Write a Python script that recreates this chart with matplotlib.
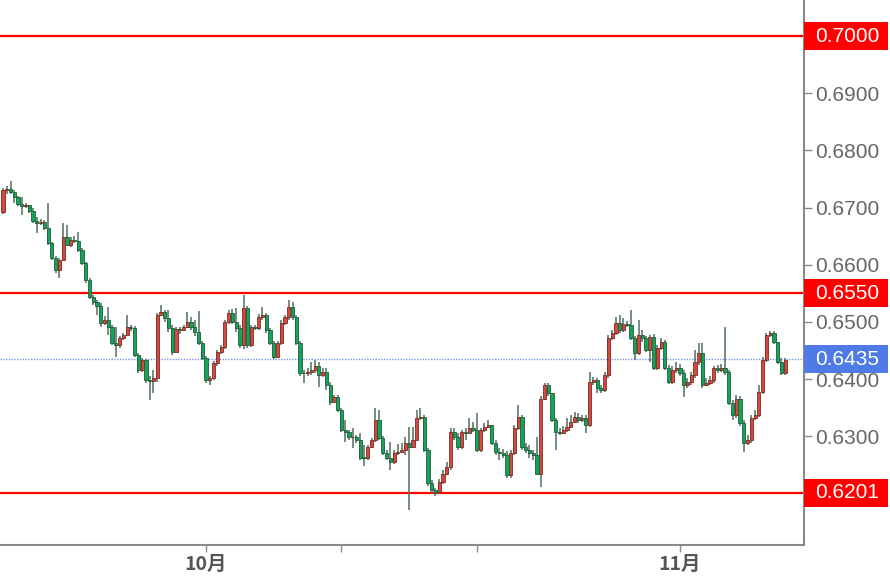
import numpy as np
import matplotlib
matplotlib.use("Agg")
import matplotlib.pyplot as plt
from matplotlib.patches import Rectangle
from matplotlib.transforms import blended_transform_factory

# 4h candles (open of each bar = previous close)
first_open = 0.6692
closes = [0.6731, 0.6732, 0.6727, 0.6718, 0.6706, 0.6703, 0.6704, 0.6694, 0.6676, 0.6673,
          0.6675, 0.6664, 0.6638, 0.6612, 0.6591, 0.6608, 0.6648, 0.6634, 0.6643, 0.6642,
          0.6626, 0.6603, 0.6573, 0.6543, 0.6535, 0.6528, 0.6498, 0.6503, 0.6491, 0.6463,
          0.6459, 0.6472, 0.6477, 0.6491, 0.6489, 0.6442, 0.6416, 0.6433, 0.6398, 0.6396,
          0.6402, 0.6512, 0.6517, 0.6507, 0.6489, 0.6447, 0.6487, 0.6486, 0.6491, 0.6500,
          0.6491, 0.6482, 0.6463, 0.6437, 0.6398, 0.6402, 0.6428, 0.6447, 0.6456, 0.6500,
          0.6515, 0.6500, 0.6489, 0.6459, 0.6524, 0.6459, 0.6491, 0.6489, 0.6508, 0.6512,
          0.6486, 0.6463, 0.6438, 0.6463, 0.6498, 0.6508, 0.6526, 0.6508, 0.6463, 0.6410,
          0.6411, 0.6412, 0.6416, 0.6423, 0.6407, 0.6412, 0.6389, 0.6360, 0.6368, 0.6346,
          0.6311, 0.6307, 0.6298, 0.6299, 0.6293, 0.6263, 0.6262, 0.6281, 0.6293, 0.6328,
          0.6297, 0.6270, 0.6263, 0.6255, 0.6270, 0.6272, 0.6276, 0.6288, 0.6281, 0.6293,
          0.6332, 0.6333, 0.6276, 0.6218, 0.6206, 0.6202, 0.6220, 0.6235, 0.6246, 0.6307,
          0.6298, 0.6281, 0.6307, 0.6305, 0.6314, 0.6311, 0.6276, 0.6311, 0.6316, 0.6319,
          0.6288, 0.6272, 0.6270, 0.6267, 0.6232, 0.6270, 0.6314, 0.6333, 0.6281, 0.6276,
          0.6270, 0.6268, 0.6235, 0.6366, 0.6389, 0.6375, 0.6328, 0.6307, 0.6306, 0.6311,
          0.6316, 0.6325, 0.6333, 0.6328, 0.6332, 0.6319, 0.6395, 0.6398, 0.6384, 0.6381,
          0.6407, 0.6472, 0.6480, 0.6498, 0.6486, 0.6496, 0.6495, 0.6472, 0.6445, 0.6477,
          0.6472, 0.6451, 0.6473, 0.6419, 0.6454, 0.6465, 0.6419, 0.6395, 0.6416, 0.6419,
          0.6410, 0.6389, 0.6395, 0.6407, 0.6430, 0.6445, 0.6389, 0.6393, 0.6398, 0.6419,
          0.6416, 0.6419, 0.6412, 0.6358, 0.6337, 0.6366, 0.6323, 0.6288, 0.6293, 0.6332,
          0.6337, 0.6377, 0.6433, 0.6477, 0.6480, 0.6465, 0.6430, 0.6410, 0.6433]
highs = [0.6734, 0.6738, 0.6746, 0.6731, 0.6720, 0.6718, 0.6708, 0.6704, 0.6699, 0.6683,
         0.6680, 0.6678, 0.6708, 0.6640, 0.6615, 0.6612, 0.6673, 0.6669, 0.6648, 0.6650,
         0.6657, 0.6629, 0.6605, 0.6577, 0.6547, 0.6538, 0.6533, 0.6510, 0.6526, 0.6494,
         0.6491, 0.6475, 0.6480, 0.6512, 0.6494, 0.6493, 0.6445, 0.6437, 0.6435, 0.6405,
         0.6416, 0.6515, 0.6529, 0.6521, 0.6521, 0.6494, 0.6491, 0.6491, 0.6494, 0.6517,
         0.6508, 0.6503, 0.6519, 0.6466, 0.6440, 0.6405, 0.6431, 0.6451, 0.6459, 0.6503,
         0.6521, 0.6522, 0.6524, 0.6494, 0.6547, 0.6528, 0.6494, 0.6494, 0.6514, 0.6526,
         0.6515, 0.6489, 0.6466, 0.6466, 0.6503, 0.6512, 0.6538, 0.6535, 0.6512, 0.6466,
         0.6416, 0.6419, 0.6430, 0.6433, 0.6430, 0.6419, 0.6419, 0.6395, 0.6372, 0.6372,
         0.6349, 0.6328, 0.6311, 0.6314, 0.6302, 0.6305, 0.6284, 0.6284, 0.6297, 0.6349,
         0.6346, 0.6300, 0.6276, 0.6290, 0.6276, 0.6286, 0.6288, 0.6298, 0.6316, 0.6316,
         0.6346, 0.6349, 0.6337, 0.6279, 0.6223, 0.6209, 0.6225, 0.6241, 0.6255, 0.6314,
         0.6314, 0.6305, 0.6311, 0.6314, 0.6332, 0.6325, 0.6340, 0.6314, 0.6323, 0.6328,
         0.6319, 0.6293, 0.6279, 0.6277, 0.6274, 0.6276, 0.6319, 0.6354, 0.6337, 0.6288,
         0.6284, 0.6276, 0.6298, 0.6370, 0.6393, 0.6393, 0.6375, 0.6332, 0.6314, 0.6318,
         0.6332, 0.6337, 0.6342, 0.6340, 0.6337, 0.6337, 0.6412, 0.6403, 0.6402, 0.6389,
         0.6412, 0.6477, 0.6486, 0.6508, 0.6512, 0.6507, 0.6501, 0.6521, 0.6475, 0.6503,
         0.6486, 0.6475, 0.6477, 0.6479, 0.6459, 0.6472, 0.6468, 0.6424, 0.6423, 0.6430,
         0.6426, 0.6416, 0.6402, 0.6412, 0.6451, 0.6463, 0.6463, 0.6402, 0.6405, 0.6423,
         0.6424, 0.6426, 0.6491, 0.6416, 0.6363, 0.6372, 0.6370, 0.6328, 0.6302, 0.6337,
         0.6346, 0.6389, 0.6438, 0.6480, 0.6484, 0.6484, 0.6447, 0.6437, 0.6437]
lows = [0.6689, 0.6724, 0.6724, 0.6708, 0.6703, 0.6687, 0.6699, 0.6690, 0.6673, 0.6655,
        0.6669, 0.6661, 0.6634, 0.6608, 0.6585, 0.6577, 0.6606, 0.6633, 0.6631, 0.6638,
        0.6622, 0.6599, 0.6568, 0.6540, 0.6529, 0.6512, 0.6491, 0.6494, 0.6477, 0.6459,
        0.6438, 0.6454, 0.6468, 0.6475, 0.6484, 0.6438, 0.6410, 0.6412, 0.6393, 0.6363,
        0.6375, 0.6395, 0.6510, 0.6500, 0.6482, 0.6442, 0.6445, 0.6479, 0.6484, 0.6489,
        0.6486, 0.6475, 0.6459, 0.6433, 0.6393, 0.6389, 0.6398, 0.6423, 0.6444, 0.6452,
        0.6496, 0.6496, 0.6482, 0.6454, 0.6452, 0.6454, 0.6456, 0.6486, 0.6486, 0.6503,
        0.6480, 0.6459, 0.6435, 0.6437, 0.6459, 0.6494, 0.6503, 0.6503, 0.6459, 0.6405,
        0.6393, 0.6405, 0.6407, 0.6410, 0.6386, 0.6403, 0.6381, 0.6354, 0.6358, 0.6342,
        0.6307, 0.6290, 0.6293, 0.6279, 0.6288, 0.6258, 0.6249, 0.6258, 0.6279, 0.6290,
        0.6293, 0.6267, 0.6258, 0.6241, 0.6251, 0.6267, 0.6270, 0.6267, 0.6171, 0.6279,
        0.6293, 0.6328, 0.6272, 0.6214, 0.6199, 0.6195, 0.6199, 0.6216, 0.6232, 0.6241,
        0.6293, 0.6276, 0.6277, 0.6293, 0.6305, 0.6307, 0.6272, 0.6272, 0.6307, 0.6314,
        0.6284, 0.6267, 0.6258, 0.6263, 0.6228, 0.6228, 0.6267, 0.6311, 0.6276, 0.6270,
        0.6263, 0.6258, 0.6232, 0.6211, 0.6363, 0.6370, 0.6325, 0.6276, 0.6302, 0.6304,
        0.6307, 0.6314, 0.6325, 0.6323, 0.6325, 0.6305, 0.6316, 0.6389, 0.6375, 0.6375,
        0.6377, 0.6402, 0.6468, 0.6477, 0.6480, 0.6482, 0.6491, 0.6468, 0.6433, 0.6442,
        0.6465, 0.6447, 0.6430, 0.6416, 0.6416, 0.6451, 0.6416, 0.6391, 0.6391, 0.6410,
        0.6405, 0.6368, 0.6384, 0.6389, 0.6402, 0.6424, 0.6384, 0.6388, 0.6389, 0.6393,
        0.6410, 0.6412, 0.6407, 0.6354, 0.6328, 0.6332, 0.6318, 0.6272, 0.6284, 0.6288,
        0.6328, 0.6333, 0.6374, 0.6430, 0.6473, 0.6461, 0.6426, 0.6407, 0.6407]

# horizontal levels
red_levels = [0.7000, 0.6550, 0.6201]
last_price = 0.6435

# axis labels (0.7000 is shown only in its tag)
ytick_vals = [0.63, 0.64, 0.65, 0.66, 0.67, 0.68, 0.69, 0.70]
month_pos = [54, 180]
month_labels = ["10月", "11月"]
minor_pos = [90, 126]

closes = np.array(closes)
opens = np.concatenate([[first_open], closes[:-1]])
highs = np.maximum(np.array(highs), np.maximum(opens, closes))
lows = np.minimum(np.array(lows), np.minimum(opens, closes))
x = np.arange(len(closes))

fig = plt.figure(figsize=(8.9, 5.81), dpi=100)
ax = fig.add_axes([0, 36 / 581, 804 / 890, 545 / 581])

up = closes >= opens
ax.vlines(x, lows, highs, color="#4f6d5e", lw=1.1, zorder=2)
body_bot = np.minimum(opens, closes)
body_h = np.maximum(np.abs(closes - opens), 0.00014)
ax.bar(x[up], body_h[up], bottom=body_bot[up], width=0.85,
       color="#d4493f", edgecolor="#7d2b22", linewidth=0.6, zorder=3)
ax.bar(x[~up], body_h[~up], bottom=body_bot[~up], width=0.85,
       color="#15a35a", edgecolor="#1f5c3c", linewidth=0.6, zorder=3)

for lv in red_levels:
    ax.axhline(lv, color="#ff0000", lw=1.6, zorder=1)
ax.axhline(last_price, color="#7d96f2", lw=1, ls=(0, (1, 1)), zorder=1)

ax.set_xlim(-0.8, 213)
ax.set_ylim(0.6110, 0.7063)

for s in ["top", "left"]:
    ax.spines[s].set_visible(False)
for s in ["right", "bottom"]:
    ax.spines[s].set_color("#8a8a8a")
    ax.spines[s].set_linewidth(1.5)

ax.yaxis.tick_right()
ax.set_yticks(ytick_vals)
ax.set_yticklabels(["" if v in red_levels else "%.4f" % v for v in ytick_vals])
ax.tick_params(axis="y", colors="#8a8a8a", labelcolor="#666666", labelsize=15,
               length=6, width=1, pad=2)
for t in ax.get_yticklabels():
    t.set_family("Liberation Sans")

ax.set_xticks(month_pos)
ax.set_xticklabels(month_labels, family=["Noto Sans CJK SC", "DejaVu Sans"],
                   fontweight="bold", fontsize=14, color="#555555")
ax.set_xticks(minor_pos, minor=True)
ax.tick_params(axis="x", which="both", colors="#8a8a8a", length=5, width=1, pad=2)
for t in ax.get_xticklabels():
    t.set_color("#555555")

# price tags on the right axis
trans = blended_transform_factory(ax.transAxes, ax.transData)
half = 14 * (0.7063 - 0.6110) / 545
tags = [(lv, "#ff0000") for lv in red_levels] + [(last_price, "#4f7be6")]
for lv, col in tags:
    ax.add_patch(Rectangle((1.0, lv - half), 84 / 804, 2 * half, transform=trans,
                           facecolor=col, edgecolor="none", clip_on=False, zorder=5))
    ax.text(815 / 804, lv, "%.4f" % lv, transform=trans, color="white", fontsize=15,
            family="Liberation Sans", va="center", ha="left", zorder=6, clip_on=False)

fig.savefig("out.png", dpi=100)
